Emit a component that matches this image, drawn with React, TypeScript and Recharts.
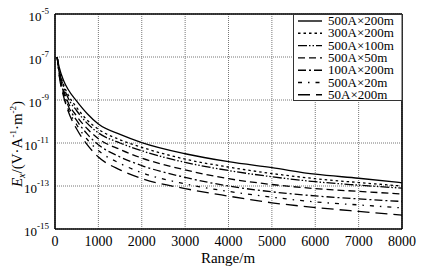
import React from 'react';
import { LineChart, Line, XAxis, YAxis, CartesianGrid, ReferenceLine } from 'recharts';

const ranges = [50, 100, 200, 300, 500, 750, 1000, 1500, 2000, 3000, 4000, 5000, 6000, 7000, 8000];

// log10 of Ex for each series
const s500x200 = [-7.0, -7.5, -8.1, -8.5, -9.05, -9.65, -10.12, -10.6, -10.98, -11.5, -11.87, -12.15, -12.45, -12.64, -12.85];
const s300x200 = [-7.0, -7.6, -8.3, -8.75, -9.35, -9.95, -10.36, -10.85, -11.2, -11.75, -12.12, -12.42, -12.66, -12.84, -13.0];
const s500x100 = [-7.0, -7.65, -8.4, -8.9, -9.5, -10.1, -10.53, -11.0, -11.36, -11.9, -12.28, -12.57, -12.8, -12.96, -13.1];
const s500x50 = [-7.0, -7.75, -8.55, -9.1, -9.75, -10.35, -10.8, -11.3, -11.7, -12.25, -12.66, -12.93, -13.12, -13.25, -13.37];
const s100x200 = [-7.0, -7.8, -8.65, -9.25, -9.95, -10.6, -11.08, -11.65, -12.05, -12.6, -13.0, -13.27, -13.46, -13.6, -13.72];
const s500x20 = [-7.0, -7.85, -8.75, -9.4, -10.15, -10.85, -11.35, -11.95, -12.38, -12.9, -13.25, -13.52, -13.74, -13.88, -14.02];
const s50x200 = [-7.0, -7.9, -8.85, -9.5, -10.35, -11.1, -11.65, -12.25, -12.65, -13.12, -13.47, -13.78, -14.0, -14.18, -14.35];

const seriesNames = ['500A×200m', '300A×200m', '500A×100m', '500A×50m', '100A×200m', '500A×20m', '50A×200m'];
const seriesValues = [s500x200, s300x200, s500x100, s500x50, s100x200, s500x20, s50x200];
const dashes = ['', '2.5 3', '9 2 1.5 2 1.5 2', '7 4', '8 3 2 3', '4 6 1.5 6', '12 6'];

const xTicks = [0, 1000, 2000, 3000, 4000, 5000, 6000, 7000, 8000];
const yTickExps = [-15, -13, -11, -9, -7, -5];
const yTicks = yTickExps.map((e) => Math.pow(10, e));

const data = ranges.map((r, i) => {
  const row: Record<string, number> = { range: r };
  seriesValues.forEach((s, k) => {
    row['s' + k] = Math.pow(10, s[i]);
  });
  return row;
});

const FONT = '"Liberation Serif", "Times New Roman", serif';

const YTick = (props: any) => {
  const { x, y, payload } = props;
  const exp = Math.round(Math.log10(payload.value));
  return (
    <text x={x + 2} y={y + 7} textAnchor="end" fontFamily={FONT} fontSize={13} fill="#000">
      <tspan>10</tspan>
      <tspan dy={-7} fontSize={9}>{String(exp)}</tspan>
    </text>
  );
};

const XTick = (props: any) => {
  const { x, y, payload } = props;
  return (
    <text x={x} y={y + 9} textAnchor="middle" fontFamily={FONT} fontSize={14} fill="#000">
      {payload.value}
    </text>
  );
};

const LegendBox = () => (
  <svg width={110} height={88} style={{ position: 'absolute', left: 293, top: 14, display: 'block' }}>
    <rect x={0.5} y={0.5} width={108.5} height={86} fill="#fff" stroke="#333" strokeWidth={1} />
    {seriesNames.map((n, i) => {
      const cy = 7 + i * 12.3;
      return (
        <g key={n}>
          <line x1={5} x2={29} y1={cy} y2={cy} stroke="#000" strokeWidth={1.4} strokeDasharray={dashes[i] || undefined} />
          <text x={35} y={cy + 4} fontFamily={FONT} fontSize={13} fill="#000">{n}</text>
        </g>
      );
    })}
  </svg>
);

export default function App() {
  return (
    <div style={{ position: 'absolute', left: 0, top: 0, width: 424, height: 269, background: '#fff' }}>
      <LineChart width={424} height={269} data={data} margin={{ top: 14, right: 22, left: 0, bottom: 0 }}>
        <CartesianGrid stroke="#777" strokeDasharray="1 1" />
        <XAxis
          dataKey="range"
          type="number"
          domain={[0, 8000]}
          ticks={xTicks}
          tick={<XTick />}
          tickLine={false}
          axisLine={{ stroke: '#000', strokeWidth: 1.6 }}
          height={40}
          interval={0}
          label={{
            content: () => (
              <text x={228} y={263} textAnchor="middle" fontFamily={FONT} fontSize={15} fill="#000">Range/m</text>
            ),
          }}
        />
        <YAxis
          type="number"
          scale="log"
          domain={[1e-15, 1e-5]}
          allowDataOverflow
          ticks={yTicks}
          tick={<YTick />}
          tickLine={false}
          axisLine={{ stroke: '#000', strokeWidth: 1.6 }}
          width={55}
          interval={0}
          label={{
            content: () => (
              <text transform="translate(22,144) rotate(-90)" textAnchor="middle" fontFamily={FONT} fontSize={15} fill="#000">
                <tspan fontStyle="italic">E</tspan>
                <tspan fontStyle="italic" fontSize={10} dy={3}>x</tspan>
                <tspan dy={-3}>/(V·A</tspan>
                <tspan fontSize={9} dy={-6}>-1</tspan>
                <tspan dy={6}>·m</tspan>
                <tspan fontSize={9} dy={-6}>-2</tspan>
                <tspan dy={6}>)</tspan>
              </text>
            ),
          }}
        />
        <ReferenceLine y={1e-5} stroke="#000" strokeWidth={1.6} />
        <ReferenceLine x={8000} stroke="#000" strokeWidth={1.6} />
        {seriesNames.map((n, k) => (
          <Line
            key={n}
            dataKey={'s' + k}
            name={n}
            type="monotone"
            stroke="#000"
            strokeWidth={1.3}
            strokeDasharray={dashes[k] || undefined}
            dot={false}
            isAnimationActive={false}
          />
        ))}
      </LineChart>
      <LegendBox />
    </div>
  );
}
